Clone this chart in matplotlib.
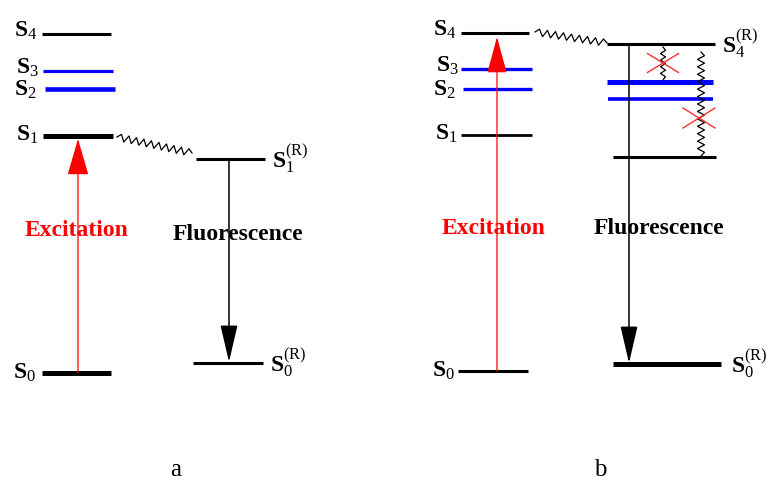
import numpy as np
import matplotlib
matplotlib.use("Agg")
import matplotlib.pyplot as plt

plt.rcParams['font.family'] = 'Liberation Serif'
plt.rcParams['mathtext.fontset'] = 'custom'
plt.rcParams['mathtext.rm'] = 'Liberation Serif'
plt.rcParams['mathtext.bf'] = 'Liberation Serif:bold'
plt.rcParams['mathtext.it'] = 'Liberation Serif:italic'

# energy levels, panel a (pixel rows of the original drawing)
a_names = ['0', '1', '2', '3', '4']
a_y = [373, 136, 89, 71, 34]
a_x0 = [42, 43, 45, 43, 42]
a_x1 = [111, 113, 115, 113, 111]
a_col = ['black', 'black', 'blue', 'blue', 'black']
a_lw = [3.6, 3.6, 3.3, 2.3, 2.2]
a_lab_x = [36, 39, 37, 39, 37]
a_lab_dy = [0, -1, 1, -3, -3]

# relaxed levels, panel a
aR_names = ['0', '1']
aR_y = [363, 159]
aR_x0 = [193, 196]
aR_x1 = [263, 265]

# energy levels, panel b
b_names = ['0', '1', '2', '3', '4']
b_y = [371, 135, 89, 69, 33]
b_x0 = [458, 461, 463, 461, 461]
b_x1 = [528, 532, 532, 532, 529]
b_col = ['black', 'black', 'blue', 'blue', 'black']
b_lw = [2.2, 2.0, 2.4, 2.4, 2.2]
b_lab_x = [455, 458, 456, 459, 456]
b_lab_dy = [0, -1, 1, -3, -3]

# relaxed levels, panel b (S4R, two blue, one black, S0R)
bR_y = [44, 82, 99, 157, 364]
bR_x0 = [607, 607, 608, 613, 613]
bR_x1 = [715, 713, 713, 716, 721]
bR_col = ['black', 'blue', 'blue', 'black', 'black']
bR_lw = [2.2, 3.6, 2.6, 2.2, 3.6]


def zigzag(ax, x0, y0, x1, y1, n, amp, **kw):
    t = np.linspace(0, 1, 2 * n + 1)
    dx, dy = x1 - x0, y1 - y0
    L = np.hypot(dx, dy)
    px, py = -dy / L, dx / L
    off = amp * np.array([0] + [(-1) ** i for i in range(1, 2 * n)] + [0])
    ax.plot(x0 + dx * t + px * off, y0 + dy * t + py * off, **kw)


def cross(ax, xc, yc, w, h):
    ax.plot([xc - w / 2, xc + w / 2], [yc - h / 2, yc + h / 2], color='#ff3030', lw=1.0)
    ax.plot([xc - w / 2, xc + w / 2], [yc + h / 2, yc - h / 2], color='#ff3030', lw=1.0)


def arrow(ax, x, ystart, yend, col, lw, hw):
    ax.annotate('', xy=(x, yend), xytext=(x, ystart),
                arrowprops=dict(arrowstyle='-|>,head_length=1.55,head_width=%s' % hw,
                                mutation_scale=15, color=col, lw=lw,
                                shrinkA=0, shrinkB=0))


fig = plt.figure(figsize=(7.67, 4.83), dpi=100)
ax = fig.add_axes([0, 0, 1, 1])
ax.set_xlim(0, 767)
ax.set_ylim(483, 0)
ax.axis('off')

lab = dict(fontsize=17, va='center')

# ---- panel a
for n, y, x0, x1, c, lw, lx, dy in zip(a_names, a_y, a_x0, a_x1, a_col, a_lw, a_lab_x, a_lab_dy):
    ax.plot([x0, x1], [y, y], color=c, lw=lw, solid_capstyle='butt')
    ax.text(lx, y + dy, r'$\mathbf{S}_{%s}$' % n, ha='right', **lab)
for n, y, x0, x1 in zip(aR_names, aR_y, aR_x0, aR_x1):
    ax.plot([x0, x1], [y, y], color='black', lw=2.2, solid_capstyle='butt')
    ax.text(x1 + 7, y, r'$\mathbf{S}_{%s}^{(\mathrm{R})}$' % n, ha='left', **lab)

arrow(ax, 78, a_y[0], a_y[1] + 3, 'red', 0.9, 0.45)
arrow(ax, 229, aR_y[1], aR_y[0] - 1, 'black', 1.1, 0.36)
zigzag(ax, 117, 137, 192, 153, 10, 3.5, color='black', lw=0.9)

ax.text(77, 231, 'Excitation', color='red', fontsize=17, fontweight='bold', ha='center', va='center')
ax.text(238, 235, 'Fluorescence', color='black', fontsize=17, fontweight='bold', ha='center', va='center')
ax.text(176, 470, 'a', fontsize=18, ha='center', va='center')

# ---- panel b
for n, y, x0, x1, c, lw, lx, dy in zip(b_names, b_y, b_x0, b_x1, b_col, b_lw, b_lab_x, b_lab_dy):
    ax.plot([x0, x1], [y, y], color=c, lw=lw, solid_capstyle='butt')
    ax.text(lx, y + dy, r'$\mathbf{S}_{%s}$' % n, ha='right', **lab)
for y, x0, x1, c, lw in zip(bR_y, bR_x0, bR_x1, bR_col, bR_lw):
    ax.plot([x0, x1], [y, y], color=c, lw=lw, solid_capstyle='butt')
ax.text(bR_x1[0] + 7, bR_y[0], r'$\mathbf{S}_{4}^{(\mathrm{R})}$', ha='left', **lab)
ax.text(bR_x1[-1] + 10, bR_y[-1], r'$\mathbf{S}_{0}^{(\mathrm{R})}$', ha='left', **lab)

arrow(ax, 497, b_y[0], b_y[4] + 4, 'red', 0.9, 0.42)
arrow(ax, 629, bR_y[0], bR_y[-1] - 1, 'black', 1.1, 0.36)
zigzag(ax, 535, 32, 607, 43, 9, 3.5, color='black', lw=0.9)
zigzag(ax, 663, 47, 663, 80, 5, 2.5, color='black', lw=0.9)
zigzag(ax, 701, 52, 701, 156, 14, 3.5, color='black', lw=0.9)
cross(ax, 663, 63, 31, 19)
cross(ax, 699, 118, 32, 20)

ax.text(494, 229, 'Excitation', color='red', fontsize=17, fontweight='bold', ha='center', va='center')
ax.text(659, 229, 'Fluorescence', color='black', fontsize=17, fontweight='bold', ha='center', va='center')
ax.text(600, 470, 'b', fontsize=18, ha='center', va='center')

fig.savefig('out.png', dpi=100)
